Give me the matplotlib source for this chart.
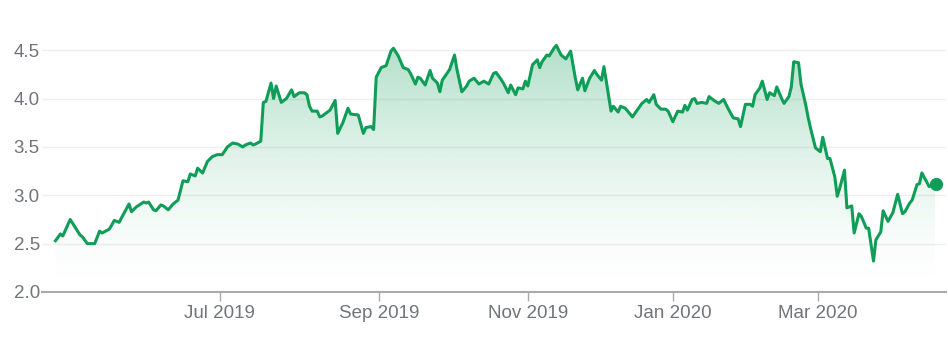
import numpy as np
import pandas as pd
import matplotlib
matplotlib.use("Agg")
import matplotlib.pyplot as plt
import matplotlib.dates as mdates

# closing prices
dates = [
    "2019-04-25", "2019-04-27", "2019-04-28", "2019-05-01", "2019-05-05", "2019-05-06", "2019-05-08",
    "2019-05-11", "2019-05-13", "2019-05-14", "2019-05-17", "2019-05-19", "2019-05-21", "2019-05-22",
    "2019-05-25", "2019-05-26", "2019-05-28", "2019-05-31", "2019-06-01", "2019-06-02", "2019-06-04",
    "2019-06-05", "2019-06-07", "2019-06-08", "2019-06-10", "2019-06-12", "2019-06-14", "2019-06-16",
    "2019-06-18", "2019-06-19", "2019-06-21", "2019-06-22", "2019-06-24", "2019-06-26", "2019-06-28",
    "2019-06-30", "2019-07-02", "2019-07-04", "2019-07-06", "2019-07-08", "2019-07-10", "2019-07-11",
    "2019-07-13", "2019-07-14", "2019-07-15", "2019-07-17", "2019-07-18", "2019-07-19", "2019-07-21",
    "2019-07-22", "2019-07-23", "2019-07-25", "2019-07-27", "2019-07-29", "2019-07-30", "2019-08-01",
    "2019-08-03", "2019-08-04", "2019-08-05", "2019-08-06", "2019-08-08", "2019-08-09", "2019-08-10",
    "2019-08-13", "2019-08-15", "2019-08-16", "2019-08-18", "2019-08-20", "2019-08-21", "2019-08-24",
    "2019-08-26", "2019-08-27", "2019-08-29", "2019-08-30", "2019-08-31", "2019-09-02", "2019-09-04",
    "2019-09-06", "2019-09-07", "2019-09-09", "2019-09-11", "2019-09-13", "2019-09-14", "2019-09-16",
    "2019-09-17", "2019-09-18", "2019-09-20", "2019-09-22", "2019-09-23", "2019-09-25", "2019-09-26",
    "2019-09-27", "2019-09-30", "2019-10-02", "2019-10-03", "2019-10-05", "2019-10-07", "2019-10-08",
    "2019-10-10", "2019-10-12", "2019-10-14", "2019-10-16", "2019-10-18", "2019-10-19", "2019-10-21",
    "2019-10-22", "2019-10-24", "2019-10-25", "2019-10-27", "2019-10-28", "2019-10-30", "2019-10-31",
    "2019-11-01", "2019-11-03", "2019-11-05", "2019-11-06", "2019-11-07", "2019-11-09", "2019-11-10",
    "2019-11-12", "2019-11-13", "2019-11-15", "2019-11-17", "2019-11-18", "2019-11-19", "2019-11-21",
    "2019-11-22", "2019-11-24", "2019-11-25", "2019-11-27", "2019-11-29", "2019-11-30", "2019-12-02",
    "2019-12-03", "2019-12-04", "2019-12-06", "2019-12-07", "2019-12-09", "2019-12-10", "2019-12-12",
    "2019-12-15", "2019-12-17", "2019-12-19", "2019-12-21", "2019-12-22", "2019-12-24", "2019-12-25",
    "2019-12-27", "2019-12-29", "2019-12-30", "2020-01-01", "2020-01-03", "2020-01-05", "2020-01-06",
    "2020-01-07", "2020-01-09", "2020-01-10", "2020-01-11", "2020-01-13", "2020-01-15", "2020-01-16",
    "2020-01-18", "2020-01-20", "2020-01-22", "2020-01-24", "2020-01-26", "2020-01-28", "2020-01-29",
    "2020-01-31", "2020-02-02", "2020-02-03", "2020-02-04", "2020-02-06", "2020-02-07", "2020-02-09",
    "2020-02-10", "2020-02-12", "2020-02-13", "2020-02-15", "2020-02-16", "2020-02-18", "2020-02-19",
    "2020-02-20", "2020-02-22", "2020-02-23", "2020-02-25", "2020-02-26", "2020-02-27", "2020-02-29",
    "2020-03-02", "2020-03-03", "2020-03-05", "2020-03-06", "2020-03-08", "2020-03-09", "2020-03-10",
    "2020-03-12", "2020-03-13", "2020-03-15", "2020-03-16", "2020-03-18", "2020-03-19", "2020-03-21",
    "2020-03-22", "2020-03-24", "2020-03-25", "2020-03-27", "2020-03-28", "2020-03-30", "2020-04-01",
    "2020-04-03", "2020-04-05", "2020-04-06", "2020-04-08", "2020-04-09", "2020-04-11", "2020-04-12",
    "2020-04-13", "2020-04-15", "2020-04-16", "2020-04-18", "2020-04-19",
]
prices = [
    2.53, 2.60, 2.58, 2.75, 2.59, 2.57, 2.50,
    2.50, 2.63, 2.61, 2.65, 2.74, 2.72, 2.77,
    2.91, 2.83, 2.88, 2.93, 2.92, 2.93, 2.85,
    2.84, 2.90, 2.89, 2.85, 2.91, 2.95, 3.15,
    3.14, 3.22, 3.20, 3.28, 3.23, 3.35, 3.40,
    3.42, 3.42, 3.50, 3.54, 3.53, 3.50, 3.52,
    3.54, 3.52, 3.53, 3.56, 3.96, 3.97, 4.16,
    4.00, 4.13, 3.96, 4.00, 4.09, 4.02, 4.06,
    4.06, 4.04, 3.92, 3.87, 3.87, 3.81, 3.82,
    3.88, 3.98, 3.64, 3.75, 3.90, 3.84, 3.83,
    3.64, 3.70, 3.71, 3.68, 4.22, 4.32, 4.34,
    4.49, 4.52, 4.44, 4.32, 4.30, 4.26, 4.15,
    4.22, 4.21, 4.14, 4.29, 4.21, 4.16, 4.07,
    4.19, 4.30, 4.45, 4.30, 4.07, 4.13, 4.18,
    4.21, 4.15, 4.18, 4.15, 4.26, 4.27, 4.20,
    4.16, 4.06, 4.14, 4.04, 4.11, 4.10, 4.18,
    4.13, 4.35, 4.40, 4.32, 4.38, 4.45, 4.44,
    4.52, 4.55, 4.45, 4.41, 4.45, 4.49, 4.21,
    4.09, 4.21, 4.08, 4.21, 4.29, 4.25, 4.19,
    4.33, 4.18, 3.87, 3.92, 3.86, 3.92, 3.90,
    3.81, 3.88, 3.95, 3.99, 3.96, 4.04, 3.94,
    3.89, 3.89, 3.87, 3.76, 3.87, 3.86, 3.93,
    3.88, 3.99, 4.00, 3.95, 3.96, 3.95, 4.02,
    3.98, 3.95, 3.99, 3.89, 3.80, 3.79, 3.71,
    3.94, 3.94, 3.92, 4.04, 4.11, 4.18, 3.99,
    4.06, 4.03, 4.12, 4.00, 3.95, 4.02, 4.12,
    4.38, 4.37, 4.15, 3.93, 3.80, 3.69, 3.49,
    3.45, 3.60, 3.38, 3.38, 3.19, 2.99, 3.07,
    3.26, 2.87, 2.89, 2.61, 2.81, 2.78, 2.66,
    2.66, 2.32, 2.54, 2.62, 2.84, 2.73, 2.82,
    3.01, 2.81, 2.83, 2.92, 2.95, 3.11, 3.12,
    3.23, 3.14, 3.09, 3.11, 3.12,
]

tick_dates = ["2019-07-01", "2019-09-01", "2019-11-01", "2020-01-01", "2020-03-01"]
tick_labels = ["Jul 2019", "Sep 2019", "Nov 2019", "Jan 2020", "Mar 2020"]
y_ticks = [2.0, 2.5, 3.0, 3.5, 4.0, 4.5]
y_labels = ["2.0", "2.5", "3.0", "3.5", "4.0", "4.5"]

green = "#0f9d58"
grey_txt = "#70757a"

plt.rcParams["font.family"] = ["Liberation Sans", "DejaVu Sans"]

x = mdates.date2num(pd.to_datetime(dates))
y = np.array(prices)

# the source axis is not evenly spaced in calendar days (trading calendar),
# so use a piecewise-linear time scale anchored on the month ticks
anchor_d = mdates.date2num(pd.to_datetime(
    ["2019-04-01", "2019-07-01", "2019-09-01", "2019-11-01",
     "2020-01-01", "2020-03-01", "2020-05-01"]))
anchor_u = np.array([-3.0, 220.0, 379.0, 528.0, 673.0, 818.0, 965.4])


def fwd(v):
    return np.interp(v, anchor_d, anchor_u)


def inv(u):
    return np.interp(u, anchor_u, anchor_d)


fig = plt.figure(figsize=(9.48, 3.46), dpi=100)
ax = fig.add_axes([42 / 948, 54 / 346, 904 / 948, 266 / 346])
ax.set_xscale("function", functions=(fwd, inv))

# gradient fill under the line, clipped to the area polygon
ymin = 2.0
ytop = y.max()
frac = np.linspace(1, 0, 256)
alpha = 0.32 * frac ** 1.5
rgba = np.zeros((256, 2, 4))
rgba[..., :3] = matplotlib.colors.to_rgb(green)
rgba[:, :, 3] = alpha[:, None]
im = ax.imshow(rgba, aspect="auto", extent=[x[0], x[-1], ymin, ytop],
               origin="upper", zorder=1, interpolation="bilinear")
poly = ax.fill_between(x, y, ymin, facecolor="none", edgecolor="none")
im.set_clip_path(poly.get_paths()[0], transform=ax.transData)

ax.plot(x, y, color=green, lw=2.2, zorder=3, solid_joinstyle="round")
ax.plot(x[-1], y[-1], "o", color=green, ms=8.5, zorder=4)

# grid
for v in y_ticks[1:]:
    ax.axhline(v, color="#eeeeee", lw=1, zorder=0)

ax.set_xlim(mdates.date2num(pd.Timestamp("2019-04-19 12:00")),
            mdates.date2num(pd.Timestamp("2020-04-23 00:00")))
ax.set_ylim(2.0, 4.75)

for s in ["top", "right", "left"]:
    ax.spines[s].set_visible(False)
ax.spines["bottom"].set_color("#aaaaaa")
ax.spines["bottom"].set_linewidth(1.5)

ax.set_yticks(y_ticks)
ax.set_yticklabels(y_labels)
ax.tick_params(axis="y", length=0, pad=1.5, labelsize=13.5, labelcolor=grey_txt)

ax.set_xticks(mdates.date2num(pd.to_datetime(tick_dates)))
ax.set_xticklabels(tick_labels)
ax.xaxis.set_minor_locator(matplotlib.ticker.NullLocator())
ax.tick_params(axis="x", length=6.5, width=1, color="#aaaaaa", pad=2.5,
               labelsize=13.5, labelcolor=grey_txt)

fig.savefig("out.png", dpi=100)
